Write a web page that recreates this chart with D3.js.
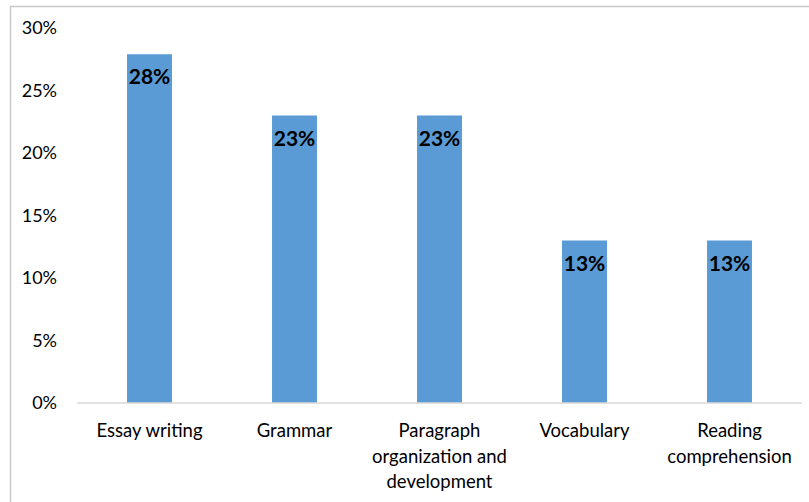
<!DOCTYPE html>
<html>
<head>
<meta charset="utf-8">
<script src="https://cdn.jsdelivr.net/npm/d3@7"></script>
<style>
  body { margin: 0; background: #fff; }
  svg text { font-family: Lato, "Open Sans", sans-serif; }
</style>
</head>
<body>
<div id="chart"></div>
<script>
// chart data
const categories = [
  ["Essay writing"],
  ["Grammar"],
  ["Paragraph", "organization and", "development"],
  ["Vocabulary"],
  ["Reading", "comprehension"]
];
const values = [27.9, 23, 23, 13, 13];
const valueLabels = ["28%", "23%", "23%", "13%", "13%"];
const yTicks = [0, 5, 10, 15, 20, 25, 30];

const width = 809, height = 502;
const margin = { top: 28, right: 7, bottom: 99, left: 77 };

const svg = d3.select("#chart").append("svg")
  .attr("width", width)
  .attr("height", height);

// outer frame
svg.append("rect")
  .attr("x", 10.5).attr("y", 6.5)
  .attr("width", 808).attr("height", 510)
  .attr("fill", "none")
  .attr("stroke", "#c8c8c8")
  .attr("stroke-width", 1.5);

const x = d3.scaleBand()
  .domain(d3.range(categories.length))
  .range([margin.left, width - margin.right])
  .paddingInner(0.69)
  .paddingOuter(0.345);

const y = d3.scaleLinear()
  .domain([0, 30])
  .range([height - margin.bottom, margin.top]);

// y tick labels
svg.append("g")
  .selectAll("text")
  .data(yTicks)
  .join("text")
  .attr("x", 57)
  .attr("y", d => y(d))
  .attr("dy", "0.35em")
  .attr("text-anchor", "end")
  .attr("font-size", 18)
  .attr("fill", "#000")
  .text(d => d + "%");

// bars
svg.append("g")
  .selectAll("rect")
  .data(values)
  .join("rect")
  .attr("x", (d, i) => x(i))
  .attr("y", d => y(d))
  .attr("width", x.bandwidth())
  .attr("height", d => y(0) - y(d))
  .attr("fill", "#5B9BD5");

// baseline
svg.append("line")
  .attr("x1", margin.left).attr("x2", width - 7)
  .attr("y1", y(0)).attr("y2", y(0))
  .attr("stroke", "#d9d9d9")
  .attr("stroke-width", 1.5);

// data labels
svg.append("g")
  .selectAll("text")
  .data(values)
  .join("text")
  .attr("x", (d, i) => x(i) + x.bandwidth() / 2)
  .attr("y", d => y(d) + 30)
  .attr("text-anchor", "middle")
  .attr("font-size", 21)
  .attr("font-weight", "bold")
  .attr("fill", "#000")
  .text((d, i) => valueLabels[i]);

// category labels
const cat = svg.append("g")
  .selectAll("text")
  .data(categories)
  .join("text")
  .attr("x", (d, i) => x(i) + x.bandwidth() / 2)
  .attr("y", y(0) + 34)
  .attr("text-anchor", "middle")
  .attr("font-size", 18.5)
  .attr("fill", "#000");

cat.selectAll("tspan")
  .data(d => d)
  .join("tspan")
  .attr("x", function () { return d3.select(this.parentNode).attr("x"); })
  .attr("dy", (d, i) => i === 0 ? 0 : 25.5)
  .text(d => d);
</script>
</body>
</html>
